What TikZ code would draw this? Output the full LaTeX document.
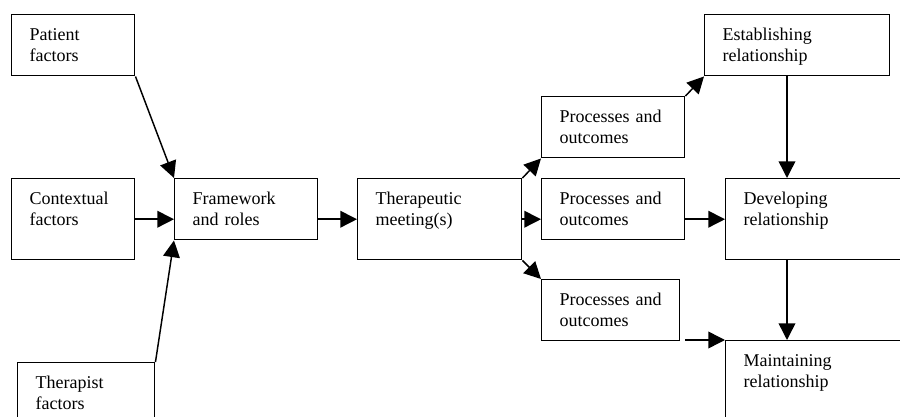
\documentclass[tikz,border=0pt]{standalone}
\usepackage{fontspec}
\setmainfont{Liberation Serif}
\usetikzlibrary{arrows.meta}

\tikzset{every picture/.style={line width=1.1pt}}
\tikzset{
  box/.style={draw, rectangle, anchor=north west, align=left,
    inner xsep=13.5pt, inner ysep=0pt, text height=19.5pt,
    font=\fontsize{13.5}{15.75}\selectfont},
  shortbox/.style={box, text depth=26.25pt},
  tallbox/.style={box, text depth=41.25pt},
  link/.style={-{Triangle[length=12.5pt,width=12.5pt]}}
}

\begin{document}
\begin{tikzpicture}[x=0.75pt,y=0.75pt,yscale=-1,xscale=1]
\path[use as bounding box, clip] (0,0) rectangle (900,417);

% Left column
\node (patient) [shortbox, text width=65.25pt] at (11,14) {Patient\\factors};
\node (context) [tallbox, text width=65.25pt] at (11,178) {Contextual\\factors};
\node (therapist) [tallbox, text width=75.75pt] at (17,362) {Therapist\\factors};

% Middle
\node (frame) [shortbox, text width=80.25pt] at (174,178) {Framework\\and roles};
\node (meet) [tallbox, text width=96pt] at (357,178) {Therapeutic\\meeting(s)};

% Processes and outcomes
\node (p1) [shortbox, text width=80.25pt] at (541,96) {Processes and\\outcomes};
\node (p2) [shortbox, text width=80.25pt] at (541,178) {Processes and\\outcomes};
\node (p3) [shortbox, text width=76.5pt] at (541,279) {Processes and\\outcomes};

% Relationship
\node (estab) [shortbox, text width=111.75pt] at (704,14) {Establishing\\relationship};
\node (develop) [tallbox, text width=123pt] at (725,178) {Developing\\relationship};
\node (maintain) [tallbox, text width=123pt] at (725,340) {Maintaining\\relationship};
\coordinate (spine) at (787,0);

% Arrows
\draw [link] (patient.south east) -- (frame.north west);
\draw [link] (context.east) -- (context.east -| frame.west);
\draw [link] (therapist.north east) -- (frame.south west);
\draw [link] (frame.east |- meet.west) -- (meet.west);
\draw [link] (meet.north east) -- (p1.south west);
\draw [link] (meet.east) -- (meet.east -| p2.west);
\draw [link] (meet.south east) -- (p3.north west);
\draw [link] (p1.north east) -- (estab.south west);
\draw [link] (spine |- estab.south) -- (spine |- develop.north);
\draw [link] (p2.east |- develop.west) -- (develop.west);
\draw [link] (spine |- develop.south) -- (spine |- maintain.north);
\draw [link] (p2.east |- maintain.north) -- (maintain.north west);

\end{tikzpicture}
\end{document}
